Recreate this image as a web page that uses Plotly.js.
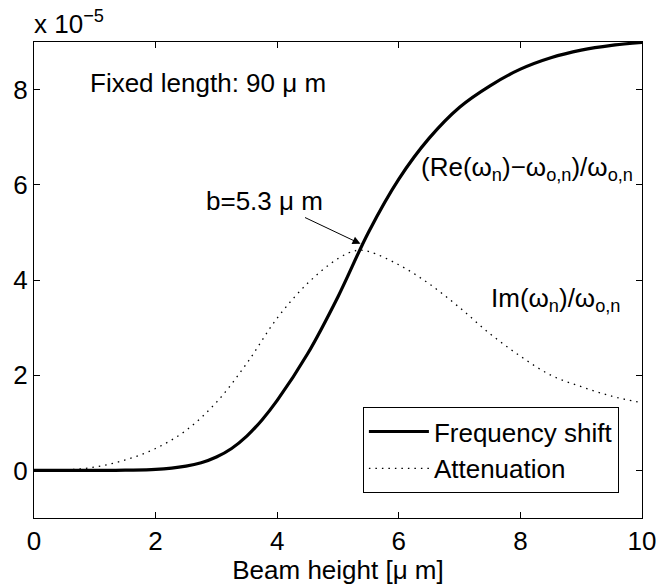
<!DOCTYPE html>
<html>
<head>
<meta charset="utf-8">
<script src="https://cdn.plot.ly/plotly-3.0.1.min.js"></script>
<style>html,body{margin:0;padding:0;background:#fff;}#chart{width:656px;height:585px;}</style>
</head>
<body>
<div id="chart"></div>
<script>
// Data (values in units of 1e-5)
var freqX = [0, 1, 1.5, 2, 2.5, 2.75, 3, 3.25, 3.5, 3.75, 4, 4.5, 5, 5.5, 6, 6.5, 7, 7.5, 8, 8.5, 9, 9.5, 10];
var freqY = [0, 0.0, 0.005, 0.02, 0.09, 0.16, 0.28, 0.46, 0.72, 1.06, 1.47, 2.45, 3.65, 5.0, 6.12, 6.98, 7.63, 8.08, 8.43, 8.67, 8.83, 8.93, 8.99];
var attX = [0, 0.5, 1, 1.5, 2, 2.5, 3, 3.5, 4, 4.5, 5, 5.3, 5.5, 6, 6.5, 7, 7.5, 8, 8.5, 9, 9.5, 10];
var attY = [0, 0.01, 0.07, 0.22, 0.46, 0.84, 1.43, 2.25, 3.2, 3.93, 4.45, 4.62, 4.6, 4.32, 3.92, 3.42, 2.87, 2.4, 2.0, 1.76, 1.56, 1.42];
var xTicks = [0, 2, 4, 6, 8, 10];
var yTicks = [0, 2, 4, 6, 8];
var seriesNames = ["Frequency shift", "Attenuation"];
var bValue = 5.3;

var FONT = "Liberation Sans, Arial, Helvetica, sans-serif";
var FS = 26;

var traces = [
  {x: freqX, y: freqY, name: seriesNames[0], mode: "lines",
   line: {color: "#000", width: 3.2, shape: "spline", smoothing: 1}},
  {x: attX, y: attY, name: seriesNames[1], mode: "lines",
   line: {color: "#000", width: 1.3, dash: "1.5px,5px", shape: "spline", smoothing: 1}}
];

var layout = {
  width: 656, height: 585,
  margin: {l: 34, r: 14, t: 42, b: 67, pad: 0},
  paper_bgcolor: "#fff", plot_bgcolor: "#fff",
  font: {family: FONT, size: FS, color: "#000"},
  showlegend: true,
  legend: {x: 0.962, y: 0.233, xanchor: "right", yanchor: "top",
    bgcolor: "#fff", bordercolor: "#000", borderwidth: 1,
    font: {family: FONT, size: FS, color: "#000"}, itemwidth: 60,
    tracegroupgap: 0},
  xaxis: {range: [0, 10], tickvals: xTicks, ticktext: xTicks.map(String),
    ticks: "inside", ticklen: 6, tickcolor: "#000", showline: true, linecolor: "#000",
    linewidth: 1, mirror: "ticks", showgrid: false, zeroline: false,
    ticklabeloverflow: "allow",
    tickfont: {family: FONT, size: FS, color: "#000"},
    title: {text: "Beam height [μ m]", font: {family: FONT, size: FS, color: "#000"}, standoff: 0}},
  yaxis: {range: [-1, 9], tickvals: yTicks, ticktext: yTicks.map(String),
    ticks: "inside", ticklen: 6, tickcolor: "#000", showline: true, linecolor: "#000",
    linewidth: 1, mirror: "ticks", showgrid: false, zeroline: false,
    ticklabeloverflow: "allow",
    tickfont: {family: FONT, size: FS, color: "#000"}},
  annotations: [
    {xref: "paper", yref: "paper", x: -0.004, y: 1.003, xanchor: "left", yanchor: "bottom",
     text: "x 10<sup>−5</sup>", showarrow: false, font: {family: FONT, size: FS}},
    {xref: "x", yref: "y", x: 0.88, y: 8.13, xanchor: "left", yanchor: "middle",
     text: "Fixed length: 90 μ m", showarrow: false, font: {family: FONT, size: FS}},
    {xref: "x", yref: "y", x: 6.33, y: 6.34, xanchor: "left", yanchor: "middle",
     text: "(Re(ω<sub>n</sub>)−ω<sub>o,n</sub>)/ω<sub>o,n</sub>", showarrow: false, font: {family: FONT, size: FS}},
    {xref: "x", yref: "y", x: 7.49, y: 3.6, xanchor: "left", yanchor: "middle",
     text: "Im(ω<sub>n</sub>)/ω<sub>o,n</sub>", showarrow: false, font: {family: FONT, size: FS}},
    {xref: "x", yref: "y", x: 2.8, y: 5.65, xanchor: "left", yanchor: "middle",
     text: "b=" + bValue + " μ m", showarrow: false, font: {family: FONT, size: FS}},
    {xref: "x", yref: "y", x: 5.37, y: 4.76, ax: -57, ay: -27, text: "",
     showarrow: true, arrowhead: 2, arrowsize: 1.6, arrowwidth: 1, arrowcolor: "#000", standoff: 0}
  ]
};

Plotly.newPlot("chart", traces, layout, {displayModeBar: false, staticPlot: true});
</script>
</body>
</html>
